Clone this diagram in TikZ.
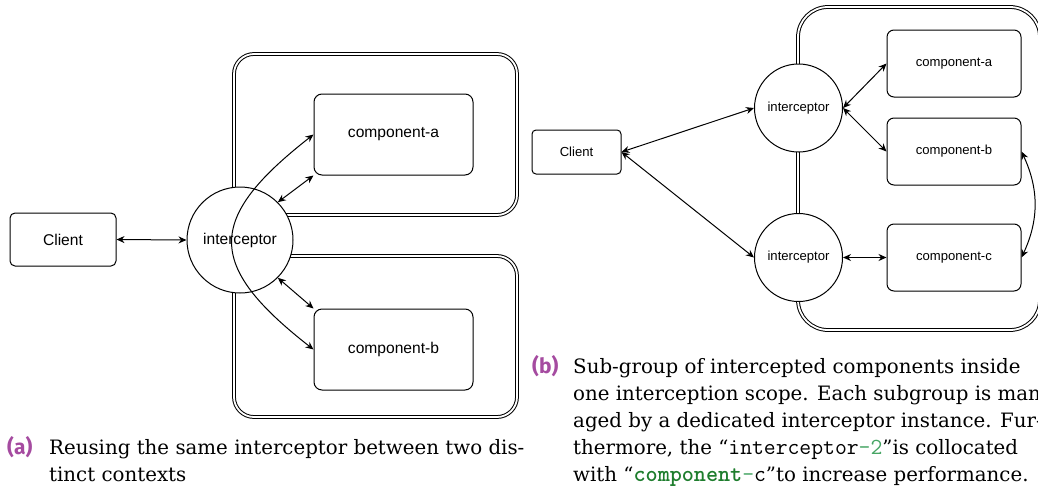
\documentclass[tikz,border=0pt]{standalone}
\usepackage{fontspec}
\setmainfont{DejaVu Serif}
\newfontfamily\diagfont{Liberation Sans}
\newfontfamily\labfont{Fira Sans}
\usetikzlibrary{arrows.meta}

\definecolor{capviolet}{RGB}{165,75,160}
\definecolor{kwgreen}{RGB}{30,125,45}
\definecolor{numgreen}{RGB}{70,165,100}

\newcommand{\subcap}[1]{{\labfont\bfseries\color{capviolet}(#1)}}
\newcommand{\ccode}[1]{{\ttfamily\fontsize{23}{27}\selectfont #1}}

\tikzset{
  boxnode/.style={draw, line width=1pt, fill=white, inner sep=0pt},
  interc/.style={circle, draw, line width=1pt, fill=white, inner sep=0pt},
  scopebox/.style={draw, line width=1pt, double, double distance=1.8pt, inner sep=0pt},
  link/.style={{Stealth[length=8pt,width=7pt]}-{Stealth[length=8pt,width=7pt]}, line width=1pt},
  bigtxt/.style={font=\diagfont\fontsize{15.6}{18}\selectfont},
  smalltxt/.style={font=\diagfont\fontsize{13.1}{15}\selectfont},
  capt/.style={align=left, inner sep=0pt, font=\fontsize{19.8}{27}\selectfont}
}

\begin{document}
\begin{tikzpicture}[x=1pt, y=1pt]
\useasboundingbox (0,0) rectangle (1038,-490);
\clip (0,0) rectangle (1038,-490);

% (a) one interceptor, two contexts
\node[scopebox, rounded corners=20, minimum width=283, minimum height=161] (ctxup) at (375.5,-134.5) {};
\node[scopebox, rounded corners=20, minimum width=283, minimum height=161] (ctxdown) at (375.5,-336.5) {};

\node[boxnode, bigtxt, rounded corners=5, minimum width=106, minimum height=53] (clientA) at (63,-239.5) {Client};
\node[interc, bigtxt, minimum size=106] (intA) at (240,-240) {interceptor};
\node[boxnode, bigtxt, rounded corners=8, minimum width=159, minimum height=81] (compA) at (393.5,-134.5) {component-a};
\node[boxnode, bigtxt, rounded corners=8, minimum width=159, minimum height=81] (compB) at (393.5,-349.5) {component-b};

\draw[link] (clientA.east) -- (intA.west);
\draw[link] (intA.45) -- (compA.south west);
\draw[link] (intA.-45) -- (compB.north west);
\draw[link] (compA.west) .. controls +(218:137) and +(142:137) .. (compB.west);

% (b) two interceptors in one scope
\node[scopebox, rounded corners=30, minimum width=242, minimum height=323] (scopeR) at (919,-168.5) {};

\node[boxnode, smalltxt, rounded corners=4, minimum width=89, minimum height=44] (clientB) at (576.5,-152) {Client};
\node[interc, smalltxt, minimum size=88] (intUp) at (798.5,-108) {interceptor};
\node[interc, smalltxt, minimum size=88] (intDown) at (798.5,-257.5) {interceptor};
\node[boxnode, smalltxt, rounded corners=7, minimum width=134, minimum height=67] (compA2) at (954,-63.5) {component-a};
\node[boxnode, smalltxt, rounded corners=7, minimum width=134, minimum height=67] (compB2) at (954,-151.5) {component-b};
\node[boxnode, smalltxt, rounded corners=7, minimum width=134, minimum height=67] (compC2) at (954,-257.5) {component-c};

\draw[link] (clientB.east) -- (intUp.west);
\draw[link] (clientB.east) -- (intDown.west);
\draw[link] (intUp.east) -- (compA2.west);
\draw[link] (intUp.east) -- (compB2.west);
\draw[link] (intDown.east) -- (compC2.west);
\draw[link] (compB2.east) to[bend left=25] (compC2.east);

% captions (base = last line)
\node[anchor=base west, inner sep=0pt, font=\fontsize{21}{27}\selectfont] (labA) at (7,-454) {\subcap{a}};
\node[capt, anchor=base west] (capA) at (49,-481) {Reusing the same interceptor between two dis-\\tinct contexts};

\node[anchor=base west, inner sep=0pt, font=\fontsize{21}{27}\selectfont] (labB) at (532,-373) {\subcap{b}};
\node[capt, anchor=base west] (capB) at (573,-481) {Sub-group of intercepted components inside\\
one interception scope. Each subgroup is man-\\
aged by a dedicated interceptor instance. Fur-\\
thermore, the ``\ccode{interceptor{\color{numgreen}-2}}''is collocated\\
with ``\ccode{{\color{kwgreen}\bfseries component}{\color{numgreen}-}c}''to increase performance.};
\end{tikzpicture}
\end{document}
